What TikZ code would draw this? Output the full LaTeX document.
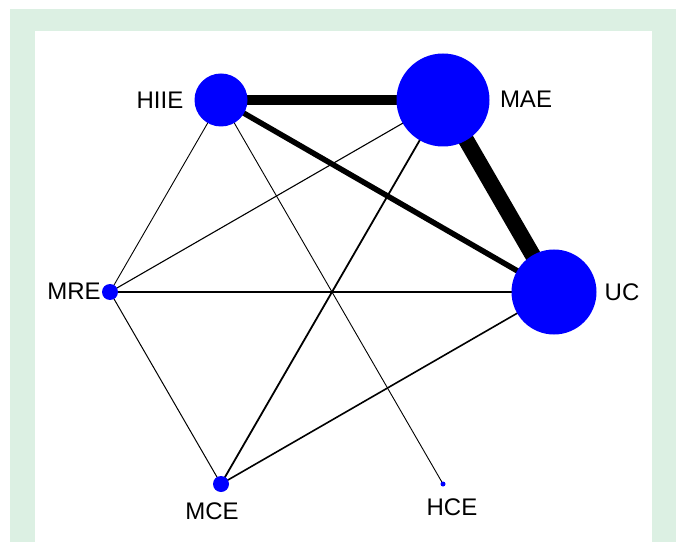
\documentclass[tikz,border=0pt]{standalone}
\usepackage{fontspec}
\setmainfont{Liberation Sans}
\definecolor{framegreen}{RGB}{220,240,227}
\definecolor{nodeblue}{RGB}{0,0,255}
\begin{document}
\begin{tikzpicture}[x=1bp,y=-1bp,
  trt/.style={circle,fill=nodeblue,inner sep=0pt,minimum size=#1},
  lbl/.style={inner sep=0pt,font=\fontsize{24bp}{26bp}\selectfont},
  edge/.style={line width=#1,draw=black}]
\useasboundingbox (0,0) rectangle (678,542);
\fill[framegreen] (10,9) rectangle (676,542);
\fill[white] (35,31) rectangle (652,542);
% node positions
\coordinate (HIIE) at (221,100);
\coordinate (MAE) at (443,100);
\coordinate (UC) at (554,292);
\coordinate (MRE) at (110,292);
\coordinate (MCE) at (221,484);
\coordinate (HCE) at (443,484);
% edges
\draw[edge=0.9bp] (HIIE) -- (MRE);
\draw[edge=0.9bp] (HIIE) -- (HCE);
\draw[edge=1.1bp] (MAE) -- (MRE);
\draw[edge=1.8bp] (MAE) -- (MCE);
\draw[edge=1.6bp] (MRE) -- (UC);
\draw[edge=1.0bp] (MRE) -- (MCE);
\draw[edge=1.6bp] (MCE) -- (UC);
\draw[edge=5.5bp] (HIIE) -- (UC);
\draw[edge=9.5bp] (HIIE) -- (MAE);
\draw[edge=16bp] (MAE) -- (UC);
% nodes
\node[trt=53bp] (nHIIE) at (HIIE) {};
\node[trt=93bp] (nMAE) at (MAE) {};
\node[trt=85bp] (nUC) at (UC) {};
\node[trt=16bp] (nMRE) at (MRE) {};
\node[trt=16bp] (nMCE) at (MCE) {};
\node[trt=5bp] (nHCE) at (HCE) {};
% labels
\node[lbl] (tHIIE) at (160,100) {HIIE};
\node[lbl] (tMAE) at (526,99) {MAE};
\node[lbl] (tUC) at (622,292) {UC};
\node[lbl] (tMRE) at (74,291) {MRE};
\node[lbl] (tMCE) at (212,511) {MCE};
\node[lbl] (tHCE) at (452,507) {HCE};
\end{tikzpicture}
\end{document}
